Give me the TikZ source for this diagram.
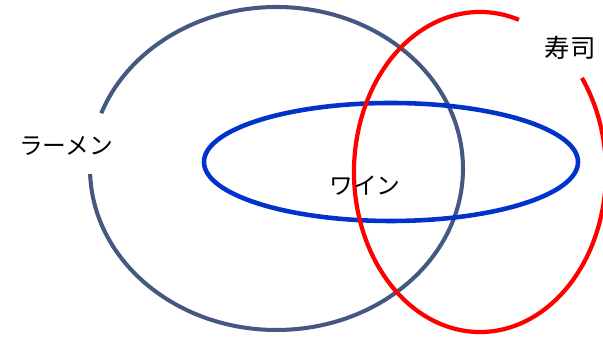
\documentclass[tikz,border=0pt]{standalone}
\usepackage{fontspec}
\newfontfamily\jpfont{Noto Sans CJK JP}
\usepackage{tikz}

\definecolor{slate}{HTML}{445882}
\definecolor{winered}{HTML}{FF0000}
\definecolor{wineblue}{HTML}{0033CC}

\begin{document}
\begin{tikzpicture}[
    x=0.02cm, y=0.02cm,
    every node/.style={font=\jpfont\fontsize{13.5}{15}\selectfont, inner sep=0pt},
    ramen/.style={draw=slate, line width=2.3pt},
    sushi/.style={draw=winered, line width=2.4pt},
    wine/.style={draw=wineblue, line width=2.6pt}
]
\useasboundingbox (0,0) rectangle (603,337);
% sets
\draw[ramen] (276.5,168.5) ++(182:186.5 and 161.5)
    arc[start angle=182, end angle=520, x radius=186.5, y radius=161.5];
\draw[wine] (391,175) ellipse [x radius=187, y radius=59];
\draw[sushi] (480,165) ++(72:126 and 160)
    arc[start angle=72, end angle=396, x radius=126, y radius=160];
% labels
\node (ramenlbl) at (66,191) {ラーメン};
\node (sushilbl) at (570,289) {\fontsize{14.5}{16}\selectfont 寿司};
\node (winelbl) at (365,151) {ワイン};
\end{tikzpicture}
\end{document}
